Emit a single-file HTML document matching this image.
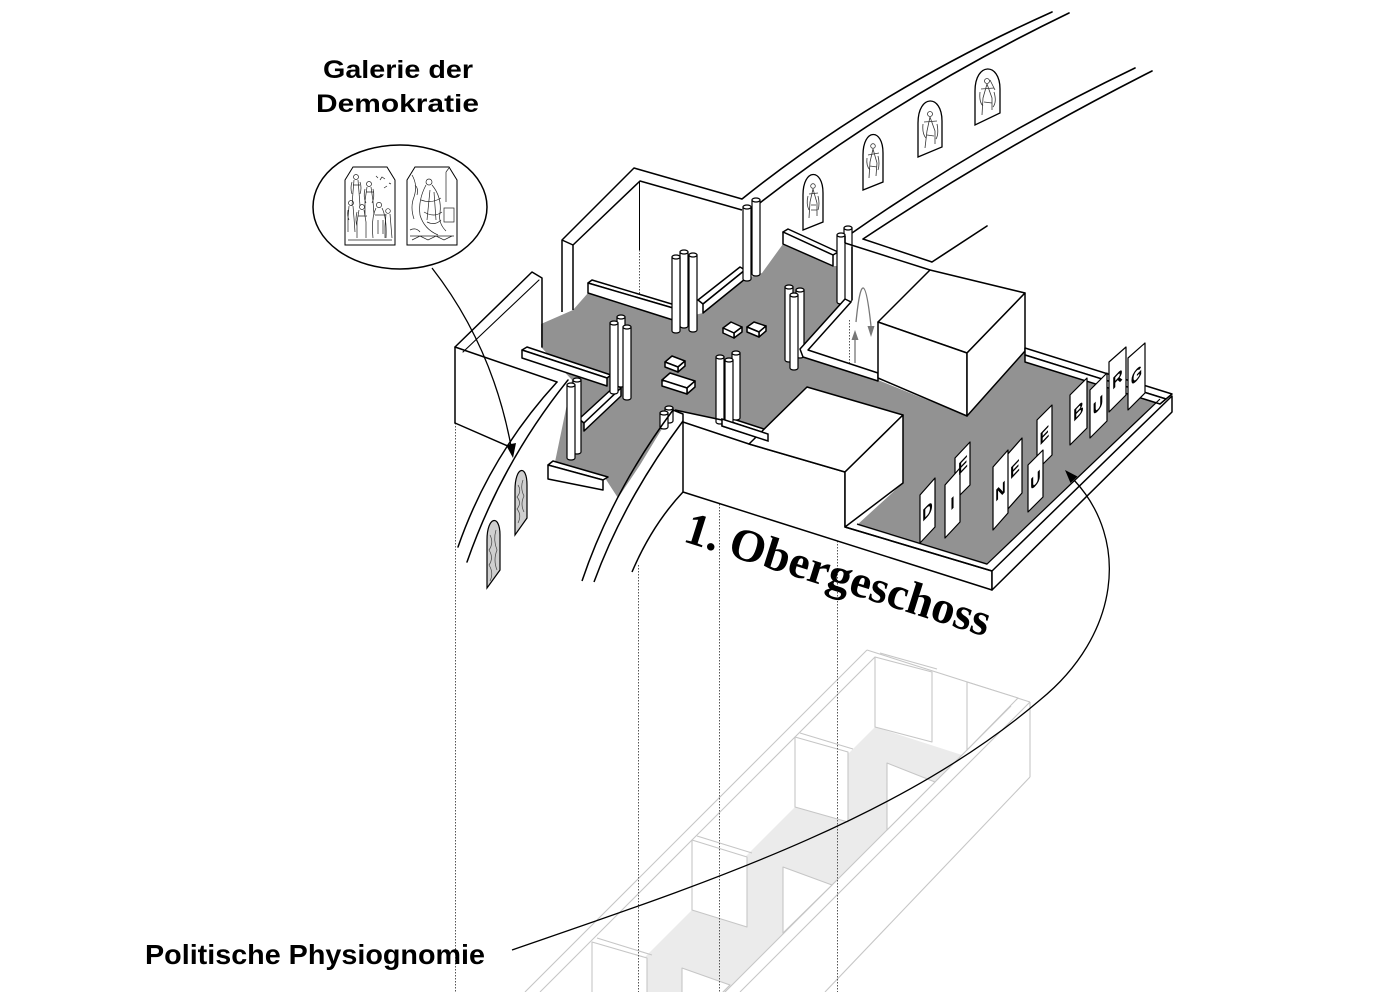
<!DOCTYPE html>
<html><head><meta charset="utf-8">
<style>html,body{margin:0;padding:0;background:#fff;}svg{display:block;}</style>
</head><body>
<svg width="1387" height="992" viewBox="0 0 1387 992" xmlns="http://www.w3.org/2000/svg">
<rect width="1387" height="992" fill="#fff"/>

<!-- ===== GHOST FLOOR (below) ===== -->
<g stroke="#c6c6c6" stroke-width="1.1" fill="none" stroke-linejoin="round">
  <polygon points="875,727 962,755 725,992 610,992" fill="#ebebeb" stroke="none"/>
  <line x1="867" y1="650" x2="525" y2="992"/>
  <line x1="875" y1="657" x2="540" y2="992"/>
  <line x1="867" y1="650" x2="1030" y2="702"/>
  <line x1="1030" y1="702" x2="1030" y2="777"/>
  <line x1="1030" y1="777" x2="825" y2="992"/>
  <line x1="1030" y1="702" x2="740" y2="992"/>
  <line x1="1011" y1="706" x2="725" y2="992"/>
  <polygon points="875,657 932,672 932,742 875,727" fill="#fff"/>
  <polygon points="795,737 848,752 848,822 795,807" fill="#fff"/>
  <polygon points="692,840 747,857 747,927 692,910" fill="#fff"/>
  <polygon points="592,942 647,958 647,1028 592,1012" fill="#fff"/>
  <polygon points="967,682 1018,698 967,750" fill="#fff"/>
  <polygon points="887,763 935,782 887,830" fill="#fff"/>
  <polygon points="783,867 832,885 783,933" fill="#fff"/>
  <polygon points="682,968 730,985 682,1033" fill="#fff"/>
  <line x1="880" y1="653" x2="937" y2="669"/>
  <line x1="800" y1="733" x2="853" y2="749"/>
  <line x1="697" y1="836" x2="752" y2="853"/>
  <line x1="597" y1="938" x2="652" y2="955"/>
</g>

<!-- dotted verticals -->
<g stroke="#555" stroke-width="1" stroke-dasharray="1.5 1.5" fill="none">
  <line x1="455.5" y1="423" x2="455.5" y2="992"/>
  <line x1="638.5" y1="565" x2="638.5" y2="992"/>
  <line x1="719.5" y1="504" x2="719.5" y2="992"/>
  <line x1="837.5" y1="541" x2="837.5" y2="992"/>
  <line x1="639.5" y1="250" x2="639.5" y2="297"/>
  <line x1="849.5" y1="320" x2="849.5" y2="363"/>
</g>

<!-- ===== TOP RING ARCS ===== -->
<g stroke="#000" stroke-width="1.6" fill="none" stroke-linecap="round">
  <path d="M742,199 Q878,90 1052,12"/>
  <path d="M756,206 Q893,98 1069,13"/>
  <path d="M852,233 Q985,140 1135,68"/>
  <path d="M863,239 Q1000,148 1152,71"/>
  <path d="M932,262 Q958,245 987,226"/>
</g>
<!-- top niches -->
<g stroke="#000" stroke-width="1.3" fill="#fff">
  <path d="M803,230 L803,195 C803,168 823,168 823,193 L823,222 Z"/>
  <path d="M863,190 L863,155 C863,128 883,128 883,153 L883,182 Z"/>
  <path d="M918,157 L918,123 C918,94 942,94 942,121 L942,147 Z"/>
  <path d="M975,125 L975,91 C975,62 1000,62 1000,89 L1000,113 Z"/>
</g>
<g stroke="#333" stroke-width="0.8" fill="none">
  <circle cx="813" cy="186" r="2.3"/><path d="M813,189 L810,202 L809,218 M813,189 L817,203 L817,216 M809,194 L818,193 M811,205 L816,205 M808,196 q-2,8 1,14 M818,196 q2,8 0,14 M811,210 h6"/>
  <circle cx="873" cy="146" r="2.3"/><path d="M873,149 L870,162 L869,178 M873,149 L877,163 L876,176 M868,155 L879,153 M870,166 L877,167 M867,158 q-1,8 3,12 M878,156 q2,8 0,14"/>
  <circle cx="930" cy="114" r="2.5"/><path d="M930,117 L927,131 L925,148 M930,117 L935,131 L935,144 M924,122 L937,121 M927,135 L934,136 M923,124 q-1,10 3,14 M937,124 q2,10 -1,15"/>
  <circle cx="987" cy="81" r="2.5"/><path d="M987,84 L983,98 L982,115 M987,84 L992,98 L992,110 M981,89 L994,88 M984,102 L992,103 M990,80 L995,90 M980,92 q-1,10 3,14 M994,92 q3,10 -1,15"/>
</g>

<!-- ===== GRAY FLOOR ===== -->
<polygon fill="#929292" stroke="none" points="555,462 605,478 618,498 640,465 660,432 675,410 722,420 768,434 768,427 807,387 903,415 903,483 857,525 987,565 1160,400 1025,362 1025,351 967,416 878,380 803,357 845,303 838,300 838,266 833,266 783,244 762,273 745,279 703,313 673,320 588,293 573,310 541,324 541,347 572,380"/>

<g stroke="#000" stroke-width="1.5" fill="#fff" stroke-linejoin="round">
  <!-- back room walls -->
  <polyline fill="none" points="562,312 562,240 634,168 742,199"/>
  <polyline fill="none" points="573,310 573,245 640,181 742,210"/>
  <line x1="562" y1="240" x2="573" y2="245"/>
  <line x1="639.5" y1="182" x2="639.5" y2="250" stroke-width="1"/>
  <!-- back room ledge -->
  <polygon points="588,283 592,280 675,305 673,308"/>
  <polygon points="588,283 673,308 673,320 588,293"/>
  <!-- low wall cluster1-2 -->
  <polygon points="698,300 740,267 745,270 703,304"/>
  <polygon points="703,304 745,270 745,279 703,313"/>
  <!-- right back ledge -->
  <polygon points="783,232 788,229 838,252 833,255"/>
  <polygon points="783,232 833,255 833,266 783,244"/>
  <!-- left mid low wall -->
  <polygon points="522,350 527,347 611,375 607,378"/>
  <polygon points="522,350 607,378 607,386 522,358"/>
  <!-- low wall 6-4 -->
  <polygon points="579,419 616,385 621,388 584,423"/>
  <polygon points="584,423 621,388 621,396 584,431"/>
  <!-- front left ledge -->
  <polygon points="548,465 553,461 608,477 603,480"/>
  <polygon points="548,465 603,480 603,490 548,479"/>
  <!-- ledge at cluster 5 -->
  <polygon points="722,419 727,417 770,431 768,434"/>
  <polygon points="722,419 768,434 768,441 722,426"/>

  <!-- benches -->
  <polygon points="723,328 731,322 742,327 734,333"/>
  <polygon points="734,333 742,327 742,332 734,338"/>
  <polygon points="723,328 734,333 734,338 723,333"/>
  <polygon points="747,327 754,322 766,326 759,332"/>
  <polygon points="759,332 766,326 766,331 759,337"/>
  <polygon points="747,327 759,332 759,337 747,332"/>
  <polygon points="665,362 672,356 685,361 678,367"/>
  <polygon points="678,367 685,361 685,366 678,372"/>
  <polygon points="665,362 678,367 678,372 665,367"/>
  <polygon points="662,380 670,373 695,381 687,388"/>
  <polygon points="687,388 695,381 695,387 687,394"/>
  <polygon points="662,380 687,388 687,394 662,386"/>
</g>

<!-- columns -->
<g stroke="#000" stroke-width="1.2" fill="#fff">
  <path d="M752,200V274A4,2 0 0 0 760,274V200Z"/><ellipse cx="756" cy="200" rx="4" ry="2"/>
  <path d="M743,207V279A4,2 0 0 0 751,279V207Z"/><ellipse cx="747" cy="207" rx="4" ry="2"/>
  <path d="M680,252V326A4,2 0 0 0 688,326V252Z"/><ellipse cx="684" cy="252" rx="4" ry="2"/>
  <path d="M672,257V331A4,2 0 0 0 680,331V257Z"/><ellipse cx="676" cy="257" rx="4" ry="2"/>
  <path d="M689,255V330A4,2 0 0 0 697,330V255Z"/><ellipse cx="693" cy="255" rx="4" ry="2"/>
  <path d="M844,228V300A4,2 0 0 0 852,300V228Z"/><ellipse cx="848" cy="228" rx="4" ry="2"/>
  <path d="M837,235V302A4,2 0 0 0 845,302V235Z"/><ellipse cx="841" cy="235" rx="4" ry="2"/>
  <path d="M785,287V360A4,2 0 0 0 793,360V287Z"/><ellipse cx="789" cy="287" rx="4" ry="2"/>
  <path d="M796,290V356A4,2 0 0 0 804,356V290Z"/><ellipse cx="800" cy="290" rx="4" ry="2"/>
  <path d="M790,295V368A4,2 0 0 0 798,368V295Z"/><ellipse cx="794" cy="295" rx="4" ry="2"/>
  <path d="M617,317V385A4,2 0 0 0 625,385V317Z"/><ellipse cx="621" cy="317" rx="4" ry="2"/>
  <path d="M610,323V392A4,2 0 0 0 618,392V323Z"/><ellipse cx="614" cy="323" rx="4" ry="2"/>
  <path d="M623,327V398A4,2 0 0 0 631,398V327Z"/><ellipse cx="627" cy="327" rx="4" ry="2"/>
  <path d="M732,353V418A4,2 0 0 0 740,418V353Z"/><ellipse cx="736" cy="353" rx="4" ry="2"/>
  <path d="M716,357V422A4,2 0 0 0 724,422V357Z"/><ellipse cx="720" cy="357" rx="4" ry="2"/>
  <path d="M725,360V425A4,2 0 0 0 733,425V360Z"/><ellipse cx="729" cy="360" rx="4" ry="2"/>
  <path d="M573,380V452A4,2 0 0 0 581,452V380Z"/><ellipse cx="577" cy="380" rx="4" ry="2"/>
  <path d="M567,385V458A4,2 0 0 0 575,458V385Z"/><ellipse cx="571" cy="385" rx="4" ry="2"/>
  <path d="M665,408V421A4,2 0 0 0 673,421V408Z"/><ellipse cx="669" cy="408" rx="4" ry="2"/>
  <path d="M660,413V427A4,2 0 0 0 668,427V413Z"/><ellipse cx="664" cy="413" rx="4" ry="2"/>
</g>

<!-- elevator room -->
<g stroke="#000" stroke-width="1.5" fill="none" stroke-linejoin="round">
  <line x1="845" y1="243" x2="845" y2="236"/>
  <line x1="852" y1="247" x2="852" y2="300"/>
  <line x1="845" y1="243" x2="930" y2="270"/>
  <line x1="863" y1="239" x2="932" y2="262"/>
  <polygon fill="#fff" points="800,349 845,299 851,302 808,350 878,373 878,381 803,357"/>
</g>
<g stroke="#777" stroke-width="1.3" fill="none">
  <path d="M855,363 L855,338"/>
  <path d="M856,322 Q863,252 871,326"/>
</g>
<polygon fill="#777" points="851.5,340 858.5,340 855,330"/>
<polygon fill="#777" points="867.5,326 874.5,326 871,337"/>

<!-- upper box -->
<g stroke="#000" stroke-width="1.5" fill="#fff" stroke-linejoin="round">
  <polygon points="878,322 930,270 1025,293 967,353"/>
  <polygon points="878,322 967,353 967,416 878,378"/>
  <polygon points="967,353 1025,293 1025,351 967,416"/>
  <polygon points="1025,348 1172,394 1166,399 1025,355"/>
  <polygon points="1025,355 1166,399 1160,404 1025,362"/>
</g>

<!-- front block / lower box / platform rim -->
<g stroke="#000" stroke-width="1.5" fill="none" stroke-linejoin="round">
  <polygon fill="#fff" points="683,422 749,444 845,472 845,527 992,571 992,590 683,492"/>
  <polygon fill="#fff" points="749,444 807,387 903,415 845,472"/>
  <polygon fill="#fff" points="845,472 903,415 903,483 845,527"/>
  <polygon fill="#fff" points="992,571 1172,396 1172,412 992,590"/>
  <polyline points="857,524 987,564 1160,399" stroke-width="1.2"/>
  <line x1="845" y1="527" x2="992" y2="571"/>
  <line x1="675" y1="410" x2="722" y2="420"/>
  <polyline points="673,410 683,414 683,422"/>
  <path d="M582,581 Q612,492 673,410"/>
  <path d="M594,582 Q624,500 683,421"/>
  <path d="M632,572 Q652,525 683,492"/>
</g>
<polygon fill="#fff" stroke="#000" stroke-width="1.5" points="722,426 768,441 768,434 722,419"/>

<!-- letter panels -->
<g stroke="#000" stroke-width="1.2" fill="#fff" stroke-linejoin="round">
  <polygon points="1128,358 1145,343 1145,393 1128,410"/>
  <polygon points="1109,362 1126,347 1126,395 1109,412"/>
  <polygon points="1090,390 1107,373 1107,421 1090,438"/>
  <polygon points="1070,395 1087,378 1087,428 1070,445"/>
  <polygon points="1037,420 1052,405 1052,455 1037,470"/>
  <polygon points="1028,465 1043,450 1043,497 1028,512"/>
  <polygon points="1007,455 1022,438 1022,493 1007,510"/>
  <polygon points="993,467 1008,450 1008,513 993,530"/>
  <polygon points="955,458 970,442 970,485 955,500"/>
  <polygon points="945,485 960,468 960,522 945,538"/>
  <polygon points="920,495 935,478 935,527 920,543"/>
</g>
<g font-family="Liberation Sans, Arial, sans-serif" font-weight="bold" font-size="17" fill="#000" text-anchor="middle" dominant-baseline="central">
  <text transform="matrix(0.85,-0.9,0,1,1136.5,376)">G</text>
  <text transform="matrix(0.85,-0.9,0,1,1117.5,380)">R</text>
  <text transform="matrix(0.85,-0.9,0,1,1098,406)">U</text>
  <text transform="matrix(0.85,-0.9,0,1,1078.5,412)">B</text>
  <text transform="matrix(0.85,-0.9,0,1,1044.5,436)">E</text>
  <text transform="matrix(0.85,-0.9,0,1,1035.5,481)">U</text>
  <text transform="matrix(0.85,-0.9,0,1,1015,470)">E</text>
  <text transform="matrix(0.85,-0.9,0,1,1000.5,492)">N</text>
  <text transform="matrix(0.85,-0.9,0,1,963,466)">E</text>
  <text transform="matrix(0.85,-0.9,0,1,952.5,504)">I</text>
  <text transform="matrix(0.85,-0.9,0,1,927.5,512)">D</text>
</g>

<!-- ===== LEFT BOX & LEFT ARCS ===== -->
<g stroke="#000" stroke-width="1.5" fill="none" stroke-linejoin="round" stroke-linecap="round">
  <polyline points="455,423 455,347 532,272 542,278 542,347"/>
  <line x1="463" y1="352" x2="539" y2="280" stroke-width="1.1"/>
  <line x1="455" y1="347" x2="557" y2="382"/>
  <line x1="455" y1="423" x2="510" y2="447"/>
  <path d="M557,382 Q490,455 458,547"/>
  <path d="M568,380 Q502,462 467,562"/>
</g>
<!-- left niches -->
<g stroke="#000" stroke-width="1.2" fill="#cfcfcf">
  <path d="M515,535 L515,490 C515,466 527,464 527,485 L527,518 Z"/>
  <path d="M487,588 L487,540 C487,516 500,514 500,535 L500,570 Z"/>
</g>
<g stroke="#444" stroke-width="0.7" fill="none">
  <path d="M518,485 q4,6 -1,12 q5,6 0,12 q5,6 1,14 M523,480 q-3,8 1,16 q-4,8 0,16"/>
  <path d="M490,535 q4,8 -1,15 q5,8 0,15 q5,8 1,16 M496,530 q-3,10 1,20 q-4,10 0,20"/>
</g>

<!-- ===== GALERIE OVAL ===== -->
<ellipse cx="400" cy="207" rx="87" ry="62" fill="#fff" stroke="#000" stroke-width="1.5"/>
<g stroke="#000" stroke-width="1" fill="#fff">
  <path d="M345,245 V180 L353,167 H387 L395,180 V245 Z"/>
  <path d="M407,245 V180 L415,167 H449 L457,180 V245 Z"/>
</g>
<g stroke="#222" stroke-width="0.7" fill="none">
  <circle cx="356" cy="177" r="2.5"/><path d="M354,180 l-1,12 l-1,14 M358,180 l1,12 l1,14 M353,185 h7 M352,182 q-2,6 0,12 M360,182 q2,6 0,12"/>
  <circle cx="369" cy="184" r="2.5"/><path d="M367,187 l-2,14 l0,14 M371,187 l2,14 l1,14 M366,192 h8 M365,189 q-2,8 1,14 M373,189 q2,8 -1,14"/>
  <circle cx="351" cy="203" r="2.5"/><path d="M349,206 l-1,12 l0,14 M353,206 l1,12 l1,14 M348,210 q-1,6 1,10"/>
  <circle cx="362" cy="207" r="2.5"/><path d="M359,210 l-2,12 l0,16 M364,210 l2,12 l0,16 M358,216 h9 M357,212 q-2,8 0,14"/>
  <circle cx="379" cy="205" r="2.6"/><path d="M376,208 q-5,10 -3,30 M382,208 q5,10 4,30 M375,215 h11 M378,220 v14 M383,220 v14"/>
  <circle cx="388" cy="211" r="2.3"/><path d="M386,214 l-1,12 l0,12 M390,214 l1,12 l1,12"/>
  <path d="M348,240 h44 M380,180 l2,-3 l3,2 M384,188 l3,-2 M376,176 l2,2 M389,183 l2,1"/>
  <circle cx="429" cy="182" r="3"/>
  <path d="M426,185 q-8,15 -6,30 q4,14 18,20 M432,185 q10,12 8,28 q-2,10 6,18 M421,200 q10,4 20,-2 M424,212 q10,6 18,0 M427,222 q8,4 14,-2 M430,190 l-3,30 M434,192 l2,28"/>
  <path d="M412,175 q6,10 2,22 q-4,10 0,22 M446,172 v30 M446,172 l3,-4 M415,185 q4,4 2,10"/>
  <rect x="444" y="208" width="10" height="14"/>
  <path d="M410,236 h44 M412,240 l8,-4 l8,4 l8,-4 l8,4 l8,-4 M410,230 q6,-3 10,2"/>
</g>

<!-- Galerie arrow -->
<path d="M432,268 Q492,345 511,446" fill="none" stroke="#000" stroke-width="1.3"/>
<polygon points="506,445 516,443 513,458" fill="#000"/>

<!-- ===== LABELS ===== -->
<g font-family="Liberation Sans, Arial, sans-serif" font-weight="bold" fill="#000">
  <text x="323" y="78" font-size="25" textLength="150" lengthAdjust="spacingAndGlyphs">Galerie der</text>
  <text x="316" y="112" font-size="25" textLength="163" lengthAdjust="spacingAndGlyphs">Demokratie</text>
  <text x="145" y="964" font-size="28" textLength="340" lengthAdjust="spacingAndGlyphs">Politische Physiognomie</text>
</g>
<text x="682" y="541" transform="rotate(17.5 682 541)" font-family="Liberation Serif, 'Times New Roman', serif" font-weight="bold" font-size="46" textLength="318" lengthAdjust="spacingAndGlyphs" fill="#000">1. Obergeschoss</text>

<!-- Politische leader -->
<path d="M512,950 C700,885 900,820 1040,700 C1120,635 1130,540 1074,480" fill="none" stroke="#000" stroke-width="1.3"/>
<polygon points="1077.5,476.5 1070.5,483 1065,470" fill="#000"/>
</svg>
</body></html>
